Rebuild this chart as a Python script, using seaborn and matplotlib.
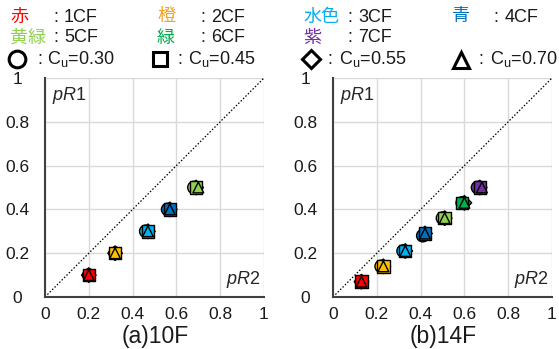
import matplotlib
matplotlib.use("Agg")
import matplotlib.pyplot as plt
import seaborn as sns
import pandas as pd
import numpy as np

sns.set_theme(style="white")
plt.rcParams['font.family'] = ['Liberation Sans', 'Noto Sans CJK JP', 'DejaVu Sans']
plt.rcParams['mathtext.fontset'] = 'custom'
plt.rcParams['mathtext.rm'] = 'Liberation Sans'
plt.rcParams['mathtext.it'] = 'Liberation Sans:italic'

# ---- data ----
cf_names_a = ["1CF", "2CF", "3CF", "4CF", "5CF"]
cf_names_b = ["1CF", "2CF", "3CF", "4CF", "5CF", "6CF", "7CF"]
cu_values = ["0.30", "0.45", "0.55", "0.70"]

# panel (a) 10F : pR2 (x), pR1 (y) for each Cu
a_x_030 = [0.20, 0.32, 0.46, 0.56, 0.68]
a_x_045 = [0.20, 0.32, 0.47, 0.57, 0.69]
a_x_055 = [0.20, 0.32, 0.47, 0.57, 0.69]
a_x_070 = [0.20, 0.32, 0.47, 0.57, 0.70]
a_y_030 = [0.10, 0.20, 0.30, 0.40, 0.50]
a_y_045 = [0.10, 0.20, 0.30, 0.40, 0.50]
a_y_055 = [0.10, 0.20, 0.30, 0.40, 0.50]
a_y_070 = [0.10, 0.20, 0.30, 0.40, 0.50]

# panel (b) 14F
b_x_030 = [0.13, 0.22, 0.32, 0.41, 0.50, 0.59, 0.66]
b_x_045 = [0.13, 0.23, 0.33, 0.42, 0.51, 0.59, 0.67]
b_x_055 = [0.13, 0.23, 0.33, 0.42, 0.51, 0.60, 0.67]
b_x_070 = [0.13, 0.23, 0.33, 0.42, 0.51, 0.60, 0.68]
b_y_030 = [0.07, 0.14, 0.21, 0.28, 0.36, 0.43, 0.50]
b_y_045 = [0.07, 0.14, 0.21, 0.29, 0.36, 0.43, 0.50]
b_y_055 = [0.07, 0.14, 0.21, 0.29, 0.36, 0.43, 0.50]
b_y_070 = [0.07, 0.14, 0.21, 0.29, 0.36, 0.43, 0.50]

palette = {"1CF": "#FF0000", "2CF": "#FFC000", "3CF": "#00B0F0", "4CF": "#0070C0",
           "5CF": "#92D050", "6CF": "#00B050", "7CF": "#7030A0"}
legend_text_colors = {"1CF": "#FF0000", "2CF": "#F7A01E", "3CF": "#00B0F0", "4CF": "#0070C0",
                      "5CF": "#92D050", "6CF": "#00B050", "7CF": "#7030A0"}
markers = {"0.30": "o", "0.45": "s", "0.55": "D", "0.70": "^"}
marker_sizes = {"0.30": 80, "0.45": 80, "0.55": 55, "0.70": 60}
draw_order = ["0.55", "0.30", "0.45", "0.70"]


def build(names, xs, ys):
    rows = []
    for cu, xl, yl in zip(cu_values, xs, ys):
        for n, x, y in zip(names, xl, yl):
            rows.append({"cf": n, "cu": cu, "pR2": x, "pR1": y})
    return pd.DataFrame(rows)


df_a = build(cf_names_a, [a_x_030, a_x_045, a_x_055, a_x_070], [a_y_030, a_y_045, a_y_055, a_y_070])
df_b = build(cf_names_b, [b_x_030, b_x_045, b_x_055, b_x_070], [b_y_030, b_y_045, b_y_055, b_y_070])

fig = plt.figure(figsize=(5.59, 3.49), dpi=100)
W, H = 559, 349


def px_axes(l, t, r, b):
    return fig.add_axes([l / W, 1 - b / H, (r - l) / W, (b - t) / H])


ax_a = px_axes(45, 78, 264, 297)
ax_b = px_axes(333, 78, 552, 297)

for ax, df, title, cx in [(ax_a, df_a, "(a)10F", 155), (ax_b, df_b, "(b)14F", 443)]:
    ax.set_xlim(0, 1)
    ax.set_ylim(0, 1)
    ticks = [0, 0.2, 0.4, 0.6, 0.8, 1.0]
    labels = ["0", "0.2", "0.4", "0.6", "0.8", "1"]
    ax.set_xticks(ticks)
    ax.set_yticks(ticks)
    ax.set_xticklabels(labels)
    ax.set_yticklabels(labels)
    ax.grid(True, color="#D9D9D9", lw=1.0)
    ax.set_axisbelow(True)
    for s in ["top", "right"]:
        ax.spines[s].set_visible(False)
    for s in ["left", "bottom"]:
        ax.spines[s].set_color("#404040")
        ax.spines[s].set_linewidth(1.5)
    ax.tick_params(axis="both", length=0, labelsize=12.5, labelcolor="#1a1a1a")
    ax.tick_params(axis="x", pad=7)
    ax.tick_params(axis="y", pad=20)
    for lab in ax.get_yticklabels():
        lab.set_horizontalalignment("center")
    ax.plot([0, 1], [0, 1], color="black", lw=0.9, ls=(0, (1.2, 1.5)), zorder=2)
    for cu in draw_order:
        sub = df[df["cu"] == cu]
        sns.scatterplot(data=sub, x="pR2", y="pR1", hue="cf", palette=palette,
                        marker=markers[cu], s=marker_sizes[cu], edgecolor="black",
                        linewidth=1.0, legend=False, ax=ax, zorder=3)
    ax.set_xlabel("")
    ax.set_ylabel("")
    ax.text(0.03, 0.97, r"$\mathit{pR}$1", transform=ax.transAxes, ha="left", va="top", fontsize=13)
    ax.text(0.985, 0.03, r"$\mathit{pR}$2", transform=ax.transAxes, ha="right", va="bottom", fontsize=13)
    fig.text(cx / W, 1 - 337 / H, title, ha="center", va="center", fontsize=16.5, color="#1a1a1a")

# ---- legend header ----
fs = 13
legend_rows = [
    [("赤", "1CF", 10, 53, 64), ("橙", "2CF", 157, 200, 211), ("水色", "3CF", 303, 347, 358), ("青", "4CF", 452, 493, 505)],
    [("黄緑", "5CF", 10, 53, 64), ("緑", "6CF", 157, 200, 211), ("紫", "7CF", 303, 347, 358)],
]
row_y = [17, 38]
for ry, row in zip(row_y, legend_rows):
    for name, cf, x0, xc, xt in row:
        fig.text(x0 / W, 1 - ry / H, name, color=legend_text_colors[cf], fontsize=fs, ha="left", va="center")
        fig.text(xc / W, 1 - ry / H, ":", color="#1a1a1a", fontsize=fs, ha="left", va="center")
        fig.text(xt / W, 1 - ry / H, cf, color="#1a1a1a", fontsize=fs, ha="left", va="center")

ov = fig.add_axes([0, 0, 1, 1])
ov.set_xlim(0, W)
ov.set_ylim(H, 0)
ov.axis("off")
ov.patch.set_alpha(0)
cu_items = [("o", 16.5, 37, 47, "0.30", 12), ("s", 160, 177, 188, "0.45", 10),
            ("D", 311, 327, 339, "0.55", 9), ("^", 461, 478, 490, "0.70", 11)]
ry = 59
for m, mx, cx_, tx, val, ms in cu_items:
    ov.plot([mx], [ry + (1 if m == "^" else 0)], marker=m, ms=ms, mfc="white", mec="black", mew=2.2, ls="none")
    ov.text(cx_, ry, ":", fontsize=fs, ha="left", va="center", color="#1a1a1a")
    ov.text(tx, ry, r"C$_{\mathrm{u}}$=" + val, fontsize=fs, ha="left", va="center", color="#1a1a1a")

fig.savefig("out.png", dpi=100)
